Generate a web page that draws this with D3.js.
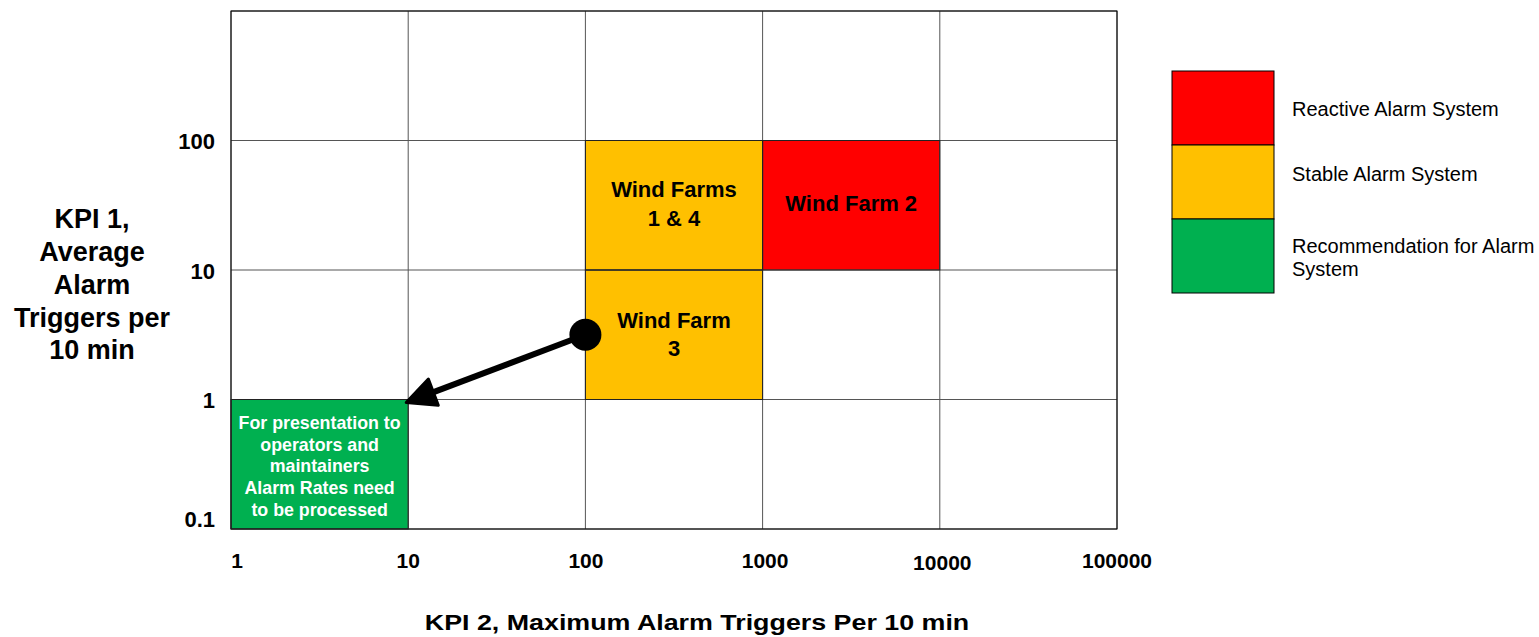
<!DOCTYPE html>
<html><head><meta charset="utf-8">
<script src="https://cdn.jsdelivr.net/npm/d3@7"></script>
<style>body{margin:0;background:#fff;} text{font-family:"Liberation Sans",Arial,sans-serif;}</style>
</head><body>
<svg id="c" width="1539" height="637"></svg>
<script>
const xTicks = [1, 10, 100, 1000, 10000, 100000];
const yTicks = [0.1, 1, 10, 100];
const yTop = 1000;
const zoneX0 = [100, 100, 1000, 1];
const zoneX1 = [1000, 1000, 10000, 10];
const zoneY0 = [10, 1, 10, 0.1];
const zoneY1 = [100, 10, 100, 1];
const zoneCat = ["stable", "stable", "reactive", "recommend"];
const zoneLabel = [["Wind Farms", "1 & 4"], ["Wind Farm", "3"], ["Wind Farm 2"],
  ["For presentation to", "operators and", "maintainers", "Alarm Rates need", "to be processed"]];
const legendCats = ["reactive", "stable", "recommend"];
const legendLabels = [["Reactive Alarm System"], ["Stable Alarm System"], ["Recommendation for Alarm", "System"]];
const colors = {reactive: "#FF0000", stable: "#FFC000", recommend: "#00B050"};
const arrowFrom = [100, 3.16];
const arrowTo = [10, 1];

const svg = d3.select("#c");
const L = 231, R = 1117, T = 11, B = 529;
const x = d3.scaleLog().domain([1, 100000]).range([L, R]);
const y = d3.scaleLog().domain([0.1, yTop]).range([B, T]);

// zones
zoneCat.forEach((c, i) => {
  svg.append("rect").attr("x", x(zoneX0[i])).attr("y", y(zoneY1[i]))
    .attr("width", x(zoneX1[i]) - x(zoneX0[i])).attr("height", y(zoneY0[i]) - y(zoneY1[i]))
    .attr("fill", colors[c]);
});

// grid
const gx = svg.append("g");
xTicks.forEach(v => gx.append("line").attr("x1", x(v)).attr("x2", x(v)).attr("y1", T).attr("y2", B).attr("stroke", "#555").attr("stroke-width", 1));
[...yTicks, yTop].forEach(v => gx.append("line").attr("x1", L).attr("x2", R).attr("y1", y(v)).attr("y2", y(v)).attr("stroke", "#555").attr("stroke-width", 1));
svg.append("rect").attr("x", L).attr("y", T).attr("width", R - L).attr("height", B - T).attr("fill", "none").attr("stroke", "#000").attr("stroke-width", 1);
zoneCat.forEach((c, i) => {
  svg.append("rect").attr("x", x(zoneX0[i])).attr("y", y(zoneY1[i]))
    .attr("width", x(zoneX1[i]) - x(zoneX0[i])).attr("height", y(zoneY0[i]) - y(zoneY1[i]))
    .attr("fill", "none").attr("stroke", "#222").attr("stroke-width", 1);
});

// zone labels
const labFs = [22, 22, 22, 17.8];
const labLh = [29, 28.5, 28, 21.75];
const labDy = [-1, -0.5, -2, 2];
zoneLabel.forEach((lines, i) => {
  const cx = Math.sqrt(zoneX0[i] * zoneX1[i]);
  const isRec = zoneCat[i] === "recommend";
  const cy = y(Math.sqrt(zoneY0[i] * zoneY1[i])) + labDy[i];
  const t = svg.append("text").attr("text-anchor", "middle").attr("font-weight", "bold")
    .attr("font-size", labFs[i]).attr("fill", isRec ? "#fff" : "#000");
  lines.forEach((s, k) => {
    t.append("tspan").attr("x", x(cx)).attr("y", cy + (k - (lines.length - 1) / 2) * labLh[i]).attr("dy", "0.35em").text(s);
  });
});

// arrow
const ax0 = x(arrowFrom[0]), ay0 = y(arrowFrom[1]), ax1 = x(arrowTo[0]) - 2, ay1 = y(arrowTo[1]) + 3;
const ang = Math.atan2(ay1 - ay0, ax1 - ax0);
const headLen = 29, headW = 14;
const bx = ax1 - headLen * Math.cos(ang), by = ay1 - headLen * Math.sin(ang);
svg.append("line").attr("x1", ax0).attr("y1", ay0).attr("x2", bx + 4 * Math.cos(ang)).attr("y2", by + 4 * Math.sin(ang))
  .attr("stroke", "#000").attr("stroke-width", 6);
const px = -Math.sin(ang), py = Math.cos(ang);
svg.append("path").attr("d", `M${ax1},${ay1} L${bx + px * headW},${by + py * headW} L${bx - px * headW},${by - py * headW} Z`)
  .attr("fill", "#000").attr("stroke", "#000").attr("stroke-linejoin", "round").attr("stroke-width", 3);
svg.append("circle").attr("cx", ax0).attr("cy", ay0).attr("r", 16).attr("fill", "#000");

// tick labels
const xTickOff = [6, 0, 0.5, 2.5, 2.5, 0];
const xTickY = [561, 561, 561, 561, 563, 561];
xTicks.forEach((v, i) => {
  svg.append("text").attr("x", x(v) + xTickOff[i]).attr("y", xTickY[i]).attr("dy", "0.35em")
    .attr("text-anchor", "middle").attr("font-weight", "bold").attr("font-size", 21).text(v);
});
yTicks.forEach(v => {
  svg.append("text").attr("x", 215).attr("y", y(v) + (v === 0.1 ? -10 : 1)).attr("dy", "0.35em")
    .attr("text-anchor", "end").attr("font-weight", "bold").attr("font-size", 22).text(v);
});

// axis titles
const yt = svg.append("text").attr("text-anchor", "middle").attr("font-weight", "bold").attr("font-size", 27);
["KPI 1,", "Average", "Alarm", "Triggers per", "10 min"].forEach((s, k) => {
  yt.append("tspan").attr("x", 92).attr("y", 219 + k * 32.7).attr("dy", "0.35em").text(s);
});
svg.append("text").attr("transform", "translate(697,630) scale(1.22,1)").attr("text-anchor", "middle")
  .attr("font-weight", "bold").attr("font-size", 22).text("KPI 2, Maximum Alarm Triggers Per 10 min");

// legend
const ly = d3.scaleBand().domain(legendCats).range([71, 293]);
const legDy = [1, -8, 1.5];
legendCats.forEach((c, i) => {
  svg.append("rect").attr("x", 1172).attr("y", ly(c)).attr("width", 102).attr("height", ly.bandwidth())
    .attr("fill", colors[c]).attr("stroke", "#000").attr("stroke-width", 1);
  const lines = legendLabels[i];
  const t = svg.append("text").attr("font-size", 20).attr("fill", "#000");
  lines.forEach((s, k) => {
    t.append("tspan").attr("x", 1292).attr("y", ly(c) + ly.bandwidth() / 2 + legDy[i] + (k - (lines.length - 1) / 2) * 23.5).attr("dy", "0.35em").text(s);
  });
});
</script>
</body></html>
